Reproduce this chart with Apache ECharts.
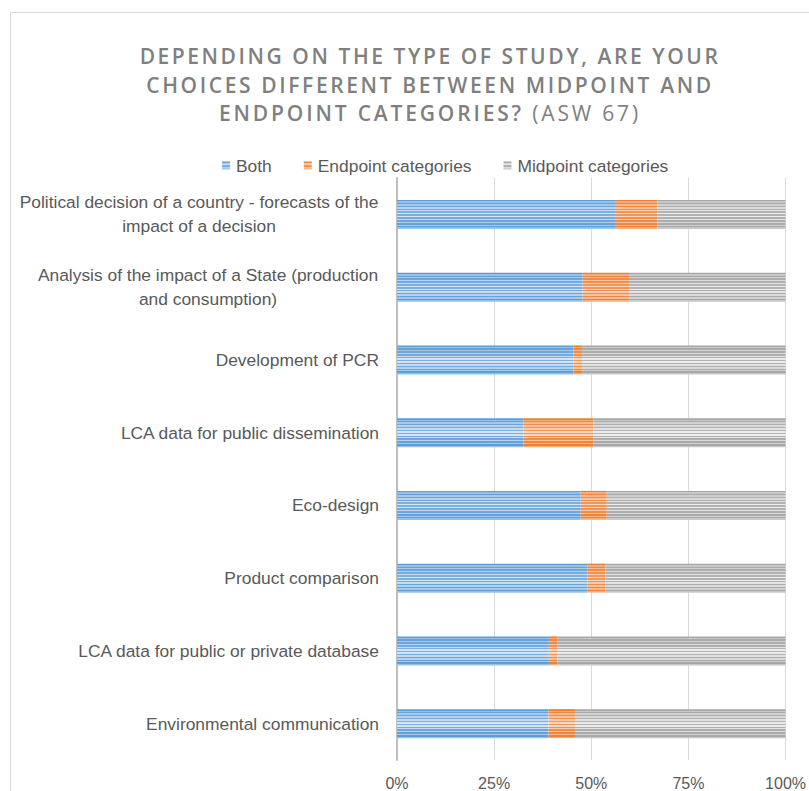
<!DOCTYPE html>
<html>
<head>
<meta charset="utf-8">
<script src="https://cdn.jsdelivr.net/npm/echarts@6/dist/echarts.min.js"></script>
<style>html,body{margin:0;padding:0;background:#fff;}#c{width:809px;height:791px;}</style>
</head>
<body>
<div id="c"></div>
<script>
const titleLines = ['DEPENDING ON THE TYPE OF STUDY, ARE YOUR', 'CHOICES DIFFERENT BETWEEN MIDPOINT AND', 'ENDPOINT CATEGORIES? (ASW 67)'];
const categories = [
  'Political decision of a country - forecasts of the\nimpact of a decision',
  'Analysis of the impact of a State (production\nand consumption)',
  'Development of PCR',
  'LCA data for public dissemination',
  'Eco-design',
  'Product comparison',
  'LCA data for public or private database',
  'Environmental communication'
];
const seriesNames = ['Both', 'Endpoint categories', 'Midpoint categories'];
const both = [56.1, 47.8, 45.4, 32.5, 47.3, 49.1, 39.1, 39.0];
const endpoint = [10.9, 11.9, 2.2, 18.1, 6.7, 4.6, 2.1, 6.8];
const midpoint = [33.0, 40.3, 52.4, 49.4, 46.0, 46.3, 58.8, 54.2];
const tickLabels = ['0%', '25%', '50%', '75%', '100%'];

const LABEL_FONT = 'Liberation Sans';
const LABEL_SIZE = 17.4;
const AXIS_SIZE = 16;
const TITLE_FONT = '"Open Sans"';
const TITLE_SIZE = 21;
const TITLE_WEIGHT = 600;
const titleTargets = [578, 565, 421];

function hex2rgb(h){h=h.replace('#','');return [0,2,4].map(i=>parseInt(h.substr(i,2),16));}
function mix(a,b,t){const A=hex2rgb(a),B=hex2rgb(b);return 'rgb('+A.map((v,i)=>Math.round(v+(B[i]-v)*t)).join(',')+')';}
function stripes(dark, darkC, lightE, lightC, n){
  const stops=[];
  for(let i=0;i<n;i++){
    const a=i/n, m=(i+0.5)/n, b=(i+1)/n;
    const t=1-Math.abs(((i+0.5)/n-0.5)*2);
    const d=mix(dark,darkC,t), l=mix(lightE,lightC,t);
    stops.push({offset:a,color:d},{offset:m,color:d},{offset:m,color:l},{offset:b,color:l});
  }
  return new echarts.graphic.LinearGradient(0,0,0,1,stops);
}
const colors = [
  stripes('#5b9bd5','#7fb1e0','#8dbbe6','#dbe9f7',10),
  stripes('#ed7d31','#f19a5e','#f4a873','#fbdcc6',10),
  stripes('#a5a5a5','#b5b5b5','#c4c4c4','#f0f0f0',10)
];

const cv=document.createElement('canvas').getContext('2d');
function measure(txt,font){cv.font=font;return cv.measureText(txt).width;}
const rich={};
categories.forEach((c,i)=>{
  const lines=c.split('\n');
  const w=Math.max(...lines.map(l=>measure(l,LABEL_SIZE+'px "'+LABEL_FONT+'"')));
  rich['c'+i]={width:Math.ceil(w)+1,align:'center',fontSize:LABEL_SIZE,fontFamily:LABEL_FONT,color:'#595959',lineHeight:24};
});

const chart=echarts.init(document.getElementById('c'),null,{renderer:'svg'});
const option={
  animation:false,
  backgroundColor:'#ffffff',
  color:colors,
  graphic:[{type:'rect',left:8,top:10,z:-10,silent:true,shape:{width:1000,height:1000},style:{fill:'none',stroke:'#d9d9d9',lineWidth:1}}],
  title:{
    text:titleLines.join('\n'),
    left:430,top:42,padding:0,textAlign:'center',
    textStyle:{fontFamily:TITLE_FONT,fontSize:TITLE_SIZE,fontWeight:TITLE_WEIGHT,color:'#7f7f7f',lineHeight:28.5}
  },
  legend:{
    left:222,top:157,padding:0,itemWidth:8,itemHeight:8,itemGap:32,icon:'rect',
    textStyle:{fontFamily:LABEL_FONT,fontSize:LABEL_SIZE,color:'#595959',padding:[0,0,0,1]},
    data:seriesNames
  },
  grid:{left:397,right:23,top:178,bottom:31,containLabel:false},
  xAxis:{
    type:'value',min:0,max:100,interval:25,
    axisLine:{show:false},axisTick:{show:false},
    splitLine:{show:true,lineStyle:{color:'#d9d9d9',width:1}},
    axisLabel:{formatter:v=>tickLabels[Math.round(v/25)],fontFamily:LABEL_FONT,fontSize:AXIS_SIZE,color:'#595959',margin:15}
  },
  yAxis:{
    type:'category',inverse:true,data:categories,
    axisLine:{show:true,lineStyle:{color:'#bfbfbf',width:2}},
    axisTick:{show:false},
    axisLabel:{
      margin:18,fontFamily:LABEL_FONT,fontSize:LABEL_SIZE,color:'#595959',lineHeight:24,align:'right',
      rich:rich,
      formatter:(v)=>{
        const idx=categories.indexOf(v);
        const lines=v.split('\n');
        if(lines.length===1) return v;
        return lines.map(l=>'{c'+idx+'|'+l+'}').join('\n');
      }
    }
  },
  series:[
    {name:seriesNames[0],type:'bar',stack:'s',barWidth:29,data:both},
    {name:seriesNames[1],type:'bar',stack:'s',barWidth:29,data:endpoint},
    {name:seriesNames[2],type:'bar',stack:'s',barWidth:29,data:midpoint}
  ]
};
chart.setOption(option);

function spaceTitle(){
  const texts=document.querySelectorAll('#c svg text');
  texts.forEach(t=>{
    const s=t.textContent;
    const k=titleLines.indexOf(s);
    if(k>=0){
      const w=measure(s,TITLE_WEIGHT+' '+TITLE_SIZE+'px '+TITLE_FONT);
      const sp=(titleTargets[k]-w)/(s.length-1);
      t.setAttribute('letter-spacing',sp.toFixed(2)+'px');
      t.style.letterSpacing=sp.toFixed(2)+'px';
      if(k===2 && !t.querySelector('tspan')){
        const cut=s.indexOf('(');
        const ns='http://www.w3.org/2000/svg';
        t.textContent=s.slice(0,cut);
        const ts=document.createElementNS(ns,'tspan');
        ts.setAttribute('font-weight','400');
        ts.textContent=s.slice(cut);
        t.appendChild(ts);
      }
    }
  });
}
chart.on('rendered',spaceTitle);
spaceTitle();
setTimeout(spaceTitle,50);
</script>
</body>
</html>
